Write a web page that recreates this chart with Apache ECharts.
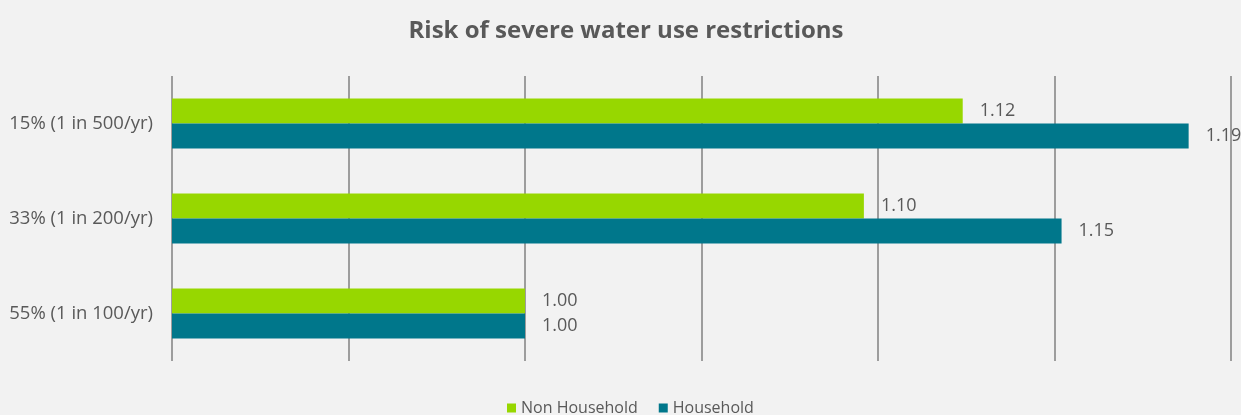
<!DOCTYPE html>
<html>
<head>
<meta charset="utf-8">
<style>
  html, body { margin: 0; padding: 0; background: #f2f2f2; }
  #chart { width: 1241px; height: 415px; }
</style>
<script src="https://cdn.jsdelivr.net/npm/echarts@6/dist/echarts.min.js"></script>
</head>
<body>
<div id="chart"></div>
<script>
// Return periods, listed top to bottom
const categories = ['15% (1 in 500/yr)', '33% (1 in 200/yr)', '55% (1 in 100/yr)'];
const seriesNames = ['Non Household', 'Household'];
const nonHousehold = [1.124, 1.096, 1.00];
const household = [1.188, 1.152, 1.00];

const TEXT = '#595959';
const GRID_LINE = '#808080';
const FONT = '"Open Sans", "Noto Sans", sans-serif';

const chart = echarts.init(document.getElementById('chart'));

const valueLabel = {
  show: true,
  position: 'right',
  distance: 17,
  color: TEXT,
  fontSize: 18,
  fontFamily: FONT,
  formatter: p => p.value.toFixed(2)
};

chart.setOption({
  backgroundColor: '#f2f2f2',
  animation: false,
  title: {
    text: 'Risk of severe water use restrictions',
    left: 621,
    textAlign: 'center',
    top: 14,
    textStyle: { color: TEXT, fontSize: 24, fontWeight: 'bold', fontFamily: FONT }
  },
  legend: {
    data: seriesNames,
    left: 507,
    top: 400,
    padding: 0,
    itemWidth: 9,
    itemHeight: 9,
    itemGap: 21,
    icon: 'rect',
    textStyle: { color: TEXT, fontSize: 16, fontFamily: FONT }
  },
  grid: { left: 172, right: 10, top: 76, bottom: 54 },
  xAxis: {
    type: 'value',
    min: 0.9,
    max: 1.2,
    interval: 0.05,
    axisLabel: { show: false },
    axisLine: { show: false },
    axisTick: { show: false },
    splitLine: { show: true, lineStyle: { color: GRID_LINE, width: 1.5 } }
  },
  yAxis: {
    type: 'category',
    inverse: true,
    data: categories,
    axisLine: { show: false },
    axisTick: { show: false },
    axisLabel: { color: TEXT, fontSize: 18.5, fontFamily: FONT, margin: 19 }
  },
  series: [
    {
      name: seriesNames[0],
      type: 'bar',
      data: nonHousehold,
      barWidth: 25,
      barGap: '0%',
      itemStyle: { color: '#97d700' },
      label: valueLabel
    },
    {
      name: seriesNames[1],
      type: 'bar',
      data: household,
      barWidth: 25,
      barGap: '0%',
      itemStyle: { color: '#00778b' },
      label: valueLabel
    }
  ]
});
</script>
</body>
</html>
